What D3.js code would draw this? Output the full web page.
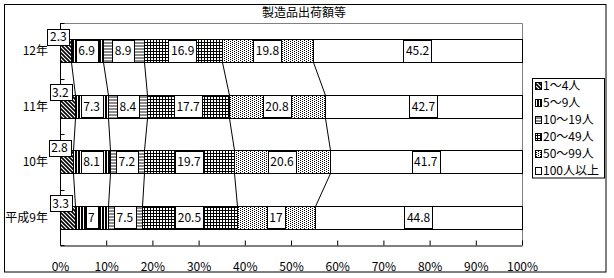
<!DOCTYPE html>
<html>
<head>
<meta charset="utf-8">
<script src="https://cdn.jsdelivr.net/npm/d3@7"></script>
<style>
  body { margin: 0; background: #fff; }
  text { font-family: 'MS PGothic', 'Noto Sans CJK JP', sans-serif; fill: #000; }
</style>
</head>
<body>
<div id="chart"></div>
<script>
// categories, top to bottom as drawn
const categories = ['12年', '11年', '10年', '平成9年']
const seriesNames = ['1～4人', '5～9人', '10～19人', '20～49人', '50～99人', '100人以上']

// shares (%) by size of establishment
const share12 = [2.3, 6.9, 8.9, 16.9, 19.8, 45.2]
const share11 = [3.2, 7.3, 8.4, 17.7, 20.8, 42.7]
const share10 = [2.8, 8.1, 7.2, 19.7, 20.6, 41.7]
const share9 = [3.3, 7, 7.5, 20.5, 17, 44.8]

const xTicks = [0, 10, 20, 30, 40, 50, 60, 70, 80, 90, 100]

const W = 614, H = 278
const margin = { top: 23, right: 92, bottom: 33, left: 60 }

const svg = d3.select('#chart').append('svg')
  .attr('width', W).attr('height', H)

// fill patterns
const defs = svg.append('defs')
function pattern(id, w, h, draw) {
  const p = defs.append('pattern').attr('id', id)
    .attr('patternUnits', 'userSpaceOnUse')
    .attr('width', w).attr('height', h)
  p.append('rect').attr('width', w).attr('height', h).attr('fill', '#fff')
  draw(p)
}
pattern('p0', 4, 4, p => p.append('path')
  .attr('d', 'M-1,-1L5,5M-1,3L1,5M3,-1L5,1')
  .attr('stroke', '#000').attr('stroke-width', 1.6))
pattern('p1', 3, 3, p => p.append('rect')
  .attr('x', 0).attr('y', 0).attr('width', 2).attr('height', 3).attr('fill', '#000'))
pattern('p2', 3, 3, p => p.append('rect')
  .attr('x', 0).attr('y', 0).attr('width', 3).attr('height', 2).attr('fill', '#8c8c8c'))
pattern('p3', 3, 3, p => {
  p.append('rect').attr('x', 0).attr('y', 0).attr('width', 3).attr('height', 1).attr('fill', '#000')
  p.append('rect').attr('x', 0).attr('y', 0).attr('width', 1).attr('height', 3).attr('fill', '#000')
})
pattern('p4', 4, 2, p => {
  p.append('rect').attr('x', 0).attr('y', 0).attr('width', 1).attr('height', 1).attr('fill', '#000')
  p.append('rect').attr('x', 2).attr('y', 1).attr('width', 1).attr('height', 1).attr('fill', '#000')
})
const fills = ['url(#p0)', 'url(#p1)', 'url(#p2)', 'url(#p3)', 'url(#p4)', '#fff']

// outer frame
svg.append('rect')
  .attr('x', 4.5).attr('y', 4.5).attr('width', 601.5).attr('height', 267.5)
  .attr('fill', 'none').attr('stroke', '#000')

svg.append('text')
  .attr('x', 304).attr('y', 14)
  .attr('text-anchor', 'middle').attr('dominant-baseline', 'middle')
  .style('font-size', '12px')
  .text('製造品出荷額等')

const x = d3.scaleLinear().domain([0, 100]).range([margin.left, W - margin.right])
const y = d3.scaleBand().domain(categories)
  .range([margin.top, H - margin.bottom])
  .paddingInner(0.585).paddingOuter(0.2925)

const rows = categories.map((c, i) => {
  const vals = [share12, share11, share10, share9][i]
  const total = d3.sum(vals)
  let acc = 0
  const segs = vals.map((v, k) => {
    const s = { cat: c, k, v, x0: acc / total * 100 }
    acc += v
    s.x1 = acc / total * 100
    return s
  })
  return { cat: c, segs }
})

// plot area border (grey top/right)
svg.append('path')
  .attr('d', `M${margin.left},${margin.top + 0.5}H${x(100) + 0.5}V${H - margin.bottom}`)
  .attr('fill', 'none').attr('stroke', '#808080')

// bars
const g = svg.append('g')
rows.forEach(r => {
  g.selectAll(null).data(r.segs).enter().append('rect')
    .attr('x', d => Math.round(x(d.x0)) + 0.5)
    .attr('y', Math.round(y(r.cat)) + 0.5)
    .attr('width', d => Math.round(x(d.x1)) - Math.round(x(d.x0)))
    .attr('height', Math.round(y.bandwidth()))
    .attr('fill', d => fills[d.k])
    .attr('stroke', '#000')
})

// series lines between adjacent bars
for (let i = 0; i < rows.length - 1; i++) {
  const a = rows[i], b = rows[i + 1]
  for (let k = 0; k < 5; k++) {
    svg.append('line')
      .attr('x1', Math.round(x(a.segs[k].x1)) + 0.5)
      .attr('y1', Math.round(y(a.cat) + y.bandwidth()) + 0.5)
      .attr('x2', Math.round(x(b.segs[k].x1)) + 0.5)
      .attr('y2', Math.round(y(b.cat)) + 0.5)
      .attr('stroke', '#000')
  }
}

// axes
const xAxis = svg.append('g')
  .attr('transform', `translate(0,${H - margin.bottom + 0.5})`)
  .call(d3.axisBottom(x).tickValues(xTicks).tickSizeInner(-5).tickSizeOuter(0)
    .tickFormat(d => d + '%'))
xAxis.select('.domain').attr('stroke', '#000')
xAxis.selectAll('.tick line').attr('stroke', '#000')
xAxis.selectAll('.tick text')
  .attr('y', 22).attr('dy', null).attr('dominant-baseline', 'middle')
  .style('font-size', '12px').style('font-family', null)

const yAxis = svg.append('g')
  .attr('transform', `translate(${margin.left + 0.5},0)`)
yAxis.append('line')
  .attr('y1', margin.top).attr('y2', H - margin.bottom)
  .attr('stroke', '#000')
const bounds = d3.range(categories.length + 1).map(i => margin.top + i * y.step())
yAxis.selectAll(null).data(bounds).enter()
  .append('line')
  .attr('x1', 0).attr('x2', 4)
  .attr('y1', d => Math.round(d) + 0.5).attr('y2', d => Math.round(d) + 0.5)
  .attr('stroke', '#000')
svg.selectAll(null).data(categories).enter().append('text')
  .attr('x', 48)
  .attr('y', d => y(d) + y.bandwidth() / 2 + 1)
  .attr('text-anchor', 'end').attr('dominant-baseline', 'middle')
  .style('font-size', '12px')
  .text(d => d)

// data labels (drawn last so boxes sit on top of the axis)
rows.forEach(r => {
  r.segs.forEach(d => {
    const first = d.k === 0
    const cx = first ? x((d.x0 + d.x1) / 2) - 7 : x((d.x0 + d.x1) / 2)
    const cy = first ? y(r.cat) + y.bandwidth() / 2 - 14 : y(r.cat) + y.bandwidth() / 2
    const lg = svg.append('g')
    const t = lg.append('text')
      .attr('x', cx).attr('y', cy + 1)
      .attr('text-anchor', 'middle').attr('dominant-baseline', 'middle')
      .style('font-size', '12px')
      .text(d.v)
    const bw = t.node().getComputedTextLength() + 5
    const bh = first ? 16 : Math.round(y.bandwidth()) - 1
    lg.insert('rect', 'text')
      .attr('x', Math.round(cx - bw / 2) + 0.5)
      .attr('y', Math.round(cy - bh / 2) + 0.5)
      .attr('width', Math.round(bw)).attr('height', bh)
      .attr('fill', '#fff').attr('stroke', '#000')
  })
})

// legend
const leg = svg.append('g')
leg.append('rect')
  .attr('x', 532.5).attr('y', 78.5).attr('width', 72).attr('height', 99.5)
  .attr('fill', '#fff').attr('stroke', '#000')
seriesNames.forEach((s, i) => {
  const cy = 86 + i * 16.9
  leg.append('rect')
    .attr('x', 535.5).attr('y', Math.round(cy - 4) + 0.5)
    .attr('width', 6).attr('height', 7)
    .attr('fill', fills[i]).attr('stroke', '#000')
  leg.append('text')
    .attr('x', 543).attr('y', cy + 1)
    .attr('dominant-baseline', 'middle')
    .style('font-size', '12px')
    .text(s)
})
</script>
</body>
</html>
